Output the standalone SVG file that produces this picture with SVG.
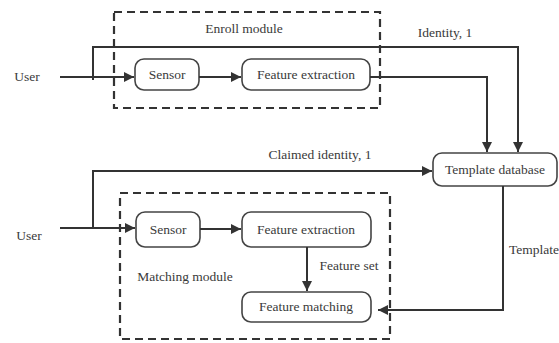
<svg xmlns="http://www.w3.org/2000/svg" width="559" height="343" viewBox="0 0 559 343" font-family="Liberation Serif, Times New Roman, serif">
<style>
text{font-size:13.5px;fill:#3a3a3a}
.box{fill:#fff;stroke:#444;stroke-width:1.6}
.dash{fill:none;stroke:#333;stroke-width:2.2;stroke-dasharray:8,5}
.ln{fill:none;stroke:#333;stroke-width:2}
</style>
<defs>
<marker id="ah" viewBox="0 0 10 10" refX="10" refY="5" markerWidth="5" markerHeight="5" orient="auto"><path d="M0,0L10,5L0,10z" fill="#333"/></marker>
</defs>
<rect width="559" height="343" fill="#fff"/>
<g id="enroll-module"><rect class="dash" x="114" y="12" width="266" height="96"/><text x="244" y="33" text-anchor="middle">Enroll module</text></g>
<g id="matching-module"><rect class="dash" x="120" y="193" width="270" height="146"/><text x="185" y="281" text-anchor="middle">Matching module</text></g>
<g id="user1"><text x="27" y="81" text-anchor="middle">User</text></g>
<g id="user2"><text x="29" y="240" text-anchor="middle">User</text></g>
<g id="sensor1"><rect class="box" x="135" y="59" width="64" height="31" rx="9"/><text x="167" y="79" text-anchor="middle">Sensor</text></g>
<g id="fe1"><rect class="box" x="242" y="59" width="128" height="31" rx="9"/><text x="306" y="79" text-anchor="middle">Feature extraction</text></g>
<g id="template-db"><rect class="box" x="433" y="153" width="124" height="33" rx="9"/><text x="495" y="174" text-anchor="middle">Template database</text></g>
<g id="sensor2"><rect class="box" x="136" y="212" width="64" height="35" rx="9"/><text x="168" y="234" text-anchor="middle">Sensor</text></g>
<g id="fe2"><rect class="box" x="242" y="212" width="129" height="35" rx="9"/><text x="306" y="234" text-anchor="middle">Feature extraction</text></g>
<g id="fm"><rect class="box" x="242" y="292" width="129" height="30" rx="9"/><text x="306" y="311" text-anchor="middle">Feature matching</text></g>
<g id="connectors">
<path class="ln" d="M60,77H134" marker-end="url(#ah)"/>
<path class="ln" d="M93,80V47H518V152" marker-end="url(#ah)"/>
<path class="ln" d="M199,77H241" marker-end="url(#ah)"/>
<path class="ln" d="M370,77H487V152" marker-end="url(#ah)"/>
<path class="ln" d="M60,228H135" marker-end="url(#ah)"/>
<path class="ln" d="M93,228V171H432" marker-end="url(#ah)"/>
<path class="ln" d="M200,229H241" marker-end="url(#ah)"/>
<path class="ln" d="M307,247V291" marker-end="url(#ah)"/>
<path class="ln" d="M503,186V310H378" marker-end="url(#ah)"/>
<text x="445" y="37" text-anchor="middle">Identity, 1</text>
<text x="320" y="159" text-anchor="middle">Claimed identity, 1</text>
<text x="349" y="270" text-anchor="middle">Feature set</text>
<text x="509" y="254">Template</text>
</g>
</svg>
